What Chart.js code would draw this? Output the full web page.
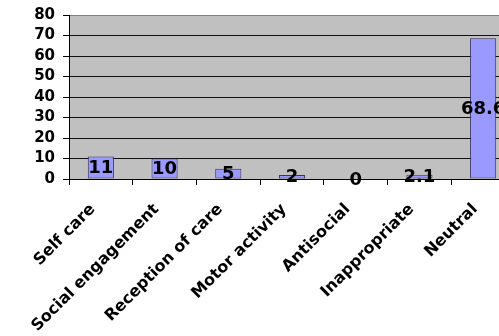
<!DOCTYPE html>
<html>
<head>
<meta charset="utf-8">
<script src="https://cdn.jsdelivr.net/npm/chart.js@4/dist/chart.umd.min.js"></script>
<style>
  html, body { margin: 0; padding: 0; background: #fff; overflow: hidden; }
  #wrap { position: relative; width: 515px; height: 336px; }
</style>
</head>
<body>
<div id="wrap"><canvas id="chart"></canvas></div>
<script>
const categories = ['Self care', 'Social engagement', 'Reception of care', 'Motor activity', 'Antisocial', 'Inappropriate', 'Neutral'];
const values = [11, 10, 5, 2, 0, 2.1, 68.6];
const yMax = 80;
const yStep = 10;

const font = 'DejaVu Sans';

// grey plot area like the old spreadsheet charts
const plotBg = {
  id: 'plotBg',
  beforeDraw(chart) {
    const { ctx, chartArea: a } = chart;
    ctx.save();
    ctx.fillStyle = '#c0c0c0';
    ctx.fillRect(a.left, a.top, a.right - a.left, a.bottom - a.top);
    ctx.restore();
  },
};

// value labels in the middle of each bar
const barLabels = {
  id: 'barLabels',
  afterDatasetsDraw(chart) {
    const { ctx } = chart;
    ctx.save();
    ctx.font = `bold 18px "${font}"`;
    ctx.fillStyle = '#000';
    ctx.textAlign = 'center';
    ctx.textBaseline = 'middle';
    chart.getDatasetMeta(0).data.forEach((bar, i) => {
      ctx.fillText(String(values[i]), bar.x, (bar.y + bar.base) / 2 + 1);
    });
    ctx.restore();
  },
};

new Chart(document.getElementById('chart'), {
  type: 'bar',
  data: {
    labels: categories,
    datasets: [{
      data: values,
      backgroundColor: '#9999ff',
      borderColor: '#333366',
      borderWidth: 1,
      borderSkipped: false,
      barPercentage: 0.41,
      categoryPercentage: 1,
    }],
  },
  options: {
    responsive: true,
    maintainAspectRatio: false,
    animation: false,
    events: [],
    layout: { padding: { top: 15, left: 0, right: 0, bottom: 0 } },
    plugins: { legend: { display: false }, tooltip: { enabled: false } },
    scales: {
      x: {
        offset: true,
        border: { color: '#000', width: 1 },
        grid: { offset: true, drawOnChartArea: false, color: '#000', tickLength: 6 },
        ticks: {
          color: '#000',
          font: { family: font, size: 16, weight: 'bold' },
          minRotation: 45,
          maxRotation: 45,
          autoSkip: false,
          padding: 15,
          labelOffset: -8,
        },
        afterFit: (s) => { s.height = 157; s.paddingLeft = 0; s.paddingRight = 0; },
      },
      y: {
        min: 0,
        max: yMax,
        border: { color: '#000', width: 1 },
        grid: {
          color: (c) => (c.tick && c.tick.value === yMax ? '#808080' : '#111'),
          tickColor: '#000',
          tickLength: 6,
        },
        ticks: {
          stepSize: yStep,
          autoSkip: false,
          color: '#000',
          font: { family: font, size: 15, weight: 'bold' },
          padding: 8,
        },
        afterFit: (s) => { s.width = 69; s.paddingTop = 0; s.paddingBottom = 0; },
      },
    },
  },
  plugins: [plotBg, barLabels],
});
</script>
</body>
</html>
